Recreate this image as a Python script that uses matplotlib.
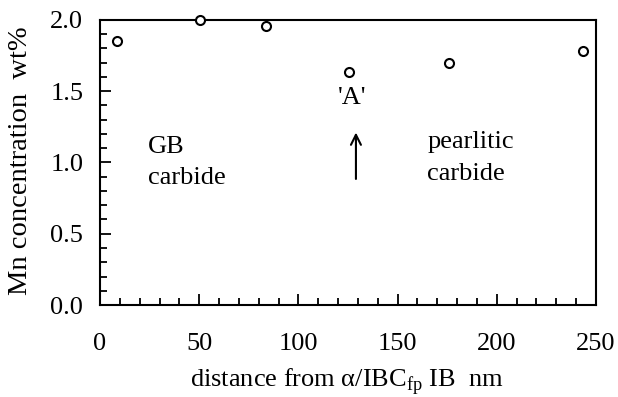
import matplotlib
matplotlib.use("Agg")
import matplotlib.pyplot as plt
from matplotlib.ticker import MultipleLocator, FormatStrFormatter

# data
distance_nm = [8.6, 50.4, 83.5, 125.7, 176.0, 243.3]
mn_wt = [1.855, 2.0, 1.96, 1.637, 1.696, 1.78]

plt.rcParams["font.family"] = ["Liberation Serif", "DejaVu Serif"]
plt.rcParams["mathtext.fontset"] = "custom"
plt.rcParams["mathtext.rm"] = "Liberation Serif"

fig = plt.figure(figsize=(6.18, 3.97), dpi=100)
ax = fig.add_axes([100 / 618, 1 - 305 / 397, 496 / 618, 285 / 397])

ax.plot(distance_nm, mn_wt, linestyle="none", marker="o", markersize=6.5,
        markerfacecolor="white", markeredgecolor="black", markeredgewidth=1.5,
        clip_on=False, zorder=3)

ax.set_xlim(0, 250)
ax.set_ylim(0, 2.0)
ax.xaxis.set_major_locator(MultipleLocator(50))
ax.xaxis.set_minor_locator(MultipleLocator(10))
ax.yaxis.set_major_locator(MultipleLocator(0.5))
ax.yaxis.set_minor_locator(MultipleLocator(0.1))
ax.yaxis.set_major_formatter(FormatStrFormatter("%.1f"))

ax.tick_params(which="both", direction="in", top=False, right=False,
               labelsize=19, width=1.3)
ax.tick_params(which="major", length=8)
ax.tick_params(which="minor", length=5)
ax.tick_params(axis="x", which="both", pad=20)
ax.tick_params(axis="y", which="both", pad=12)
for s in ax.spines.values():
    s.set_linewidth(1.5)

ax.set_ylabel("Mn concentration  wt%", fontsize=20.5)
ax.set_xlabel(r"distance from α/IBC$_{\mathrm{fp}}$ IB  nm", fontsize=19)
ax.yaxis.set_label_coords(-0.16, 0.505)
ax.xaxis.set_label_coords(0.497, -0.27)
ax.yaxis.label.set_va("center")
ax.xaxis.label.set_va("center")

ax.text(24, 1.11, "GB", fontsize=19, va="center", ha="left")
ax.text(24, 0.89, "carbide", fontsize=19, va="center", ha="left")
ax.text(165, 1.146, "pearlitic", fontsize=19, va="center", ha="left")
ax.text(165, 0.92, "carbide", fontsize=19, va="center", ha="left")
ax.text(127, 1.45, "'A'", fontsize=19, va="center", ha="center")
ax.annotate("", xy=(129, 1.23), xytext=(129, 0.865),
            arrowprops=dict(arrowstyle="->", lw=1.5, color="black",
                            mutation_scale=18))

fig.savefig("out.png", dpi=100)
